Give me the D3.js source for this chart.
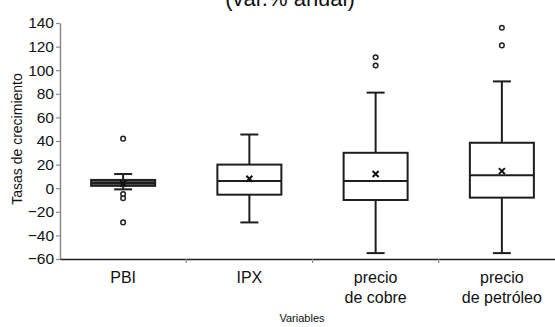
<!DOCTYPE html>
<html><head><meta charset="utf-8">
<script src="https://cdn.jsdelivr.net/npm/d3@7"></script>
<style>body{margin:0;background:#fff}svg{display:block}text{font-family:"Liberation Sans",Arial,sans-serif}</style>
</head><body>
<script>
const categories = ["PBI", "IPX", "precio\nde cobre", "precio\nde petróleo"];
const whiskerLow = [-1, -29, -55, -55];
const q1 = [2, -5.5, -10, -8];
const median = [4.5, 6, 6, 11];
const q3 = [7, 20, 30, 38.5];
const whiskerHigh = [12, 45.5, 81, 90.5];
const means = [4, 8, 12, 14.5];
const outliers = [[42, -5, -8.5, -29], [], [104, 111], [121, 136]];
const yTicks = [-60, -40, -20, 0, 20, 40, 60, 80, 100, 120, 140];

const W = 555, H = 327;
const svg = d3.select("body").append("svg").attr("width", W).attr("height", H);
const x = d3.scaleBand().domain(categories).range([60, 565]);
const y = d3.scaleLinear().domain([-60, 140]).range([259, 23]);
const dark = "#1e1e1e", axisCol = "#8a8a8a";

// axes
const ya = svg.append("g").attr("transform", "translate(60,0)")
  .call(d3.axisLeft(y).tickValues(yTicks).tickSize(4).tickPadding(2).tickSizeOuter(0));
ya.select(".domain").attr("stroke", axisCol).attr("stroke-width", 1.5);
ya.selectAll(".tick line").attr("stroke", axisCol).attr("stroke-width", 1.2);
ya.selectAll(".tick text").attr("font-size", 15.5).attr("fill", "#111").attr("font-family", "Liberation Sans, Arial, sans-serif");

const xa = svg.append("g").attr("transform", "translate(0,259)")
  .call(d3.axisBottom(x).tickSize(0).tickFormat(""));
xa.select(".domain").attr("stroke", dark).attr("stroke-width", 1.5);
// boundary ticks
svg.append("g").selectAll("line").data(categories.slice(1)).join("line")
  .attr("x1", d => x(d)).attr("x2", d => x(d)).attr("y1", 259).attr("y2", 263)
  .attr("stroke", axisCol).attr("stroke-width", 1.2);

// category labels
const lab = svg.append("g").selectAll("text").data(categories).join("text")
  .attr("x", d => x(d) + x.bandwidth() / 2).attr("y", 283)
  .attr("text-anchor", "middle").attr("font-size", 16).attr("fill", "#111");
lab.selectAll("tspan").data(d => d.split("\n")).join("tspan")
  .attr("x", function() { return this.parentNode.getAttribute("x"); })
  .attr("dy", (d, i) => i === 0 ? 0 : 20).text(d => d);

// boxes
const bw = 64, cw = 18;
const g = svg.append("g");
categories.forEach((c, i) => {
  const cx = x(c) + x.bandwidth() / 2;
  g.append("line").attr("x1", cx).attr("x2", cx).attr("y1", y(q3[i])).attr("y2", y(whiskerHigh[i])).attr("stroke", dark).attr("stroke-width", 2);
  g.append("line").attr("x1", cx).attr("x2", cx).attr("y1", y(q1[i])).attr("y2", y(whiskerLow[i])).attr("stroke", dark).attr("stroke-width", 2);
  [whiskerHigh[i], whiskerLow[i]].forEach(v => g.append("line").attr("x1", cx - cw / 2).attr("x2", cx + cw / 2).attr("y1", y(v)).attr("y2", y(v)).attr("stroke", dark).attr("stroke-width", 2));
  g.append("rect").attr("x", cx - bw / 2).attr("y", y(q3[i])).attr("width", bw).attr("height", y(q1[i]) - y(q3[i]))
    .attr("fill", i === 0 ? "#555" : "#fff").attr("stroke", dark).attr("stroke-width", 2);
  g.append("line").attr("x1", cx - bw / 2).attr("x2", cx + bw / 2).attr("y1", y(median[i])).attr("y2", y(median[i])).attr("stroke", dark).attr("stroke-width", 2);
  const my = y(means[i]), s = 3;
  g.append("path").attr("d", `M${cx - s},${my - s}L${cx + s},${my + s}M${cx - s},${my + s}L${cx + s},${my - s}`).attr("stroke", "#111").attr("stroke-width", 2);
  outliers[i].forEach(v => g.append("circle").attr("cx", cx).attr("cy", y(v)).attr("r", 2.3).attr("fill", "#fff").attr("stroke", "#222").attr("stroke-width", 1.5));
});

// titles
svg.append("text").attr("x", 290).attr("y", 6).attr("text-anchor", "middle").attr("font-size", 22).attr("fill", "#111").text("(var.% anual)");
svg.append("text").attr("transform", "translate(22,139) rotate(-90)").attr("text-anchor", "middle").attr("font-size", 14).attr("fill", "#111").text("Tasas de crecimiento");
svg.append("text").attr("x", 302).attr("y", 322).attr("text-anchor", "middle").attr("font-size", 11).attr("fill", "#111").text("Variables");
</script>
</body></html>
